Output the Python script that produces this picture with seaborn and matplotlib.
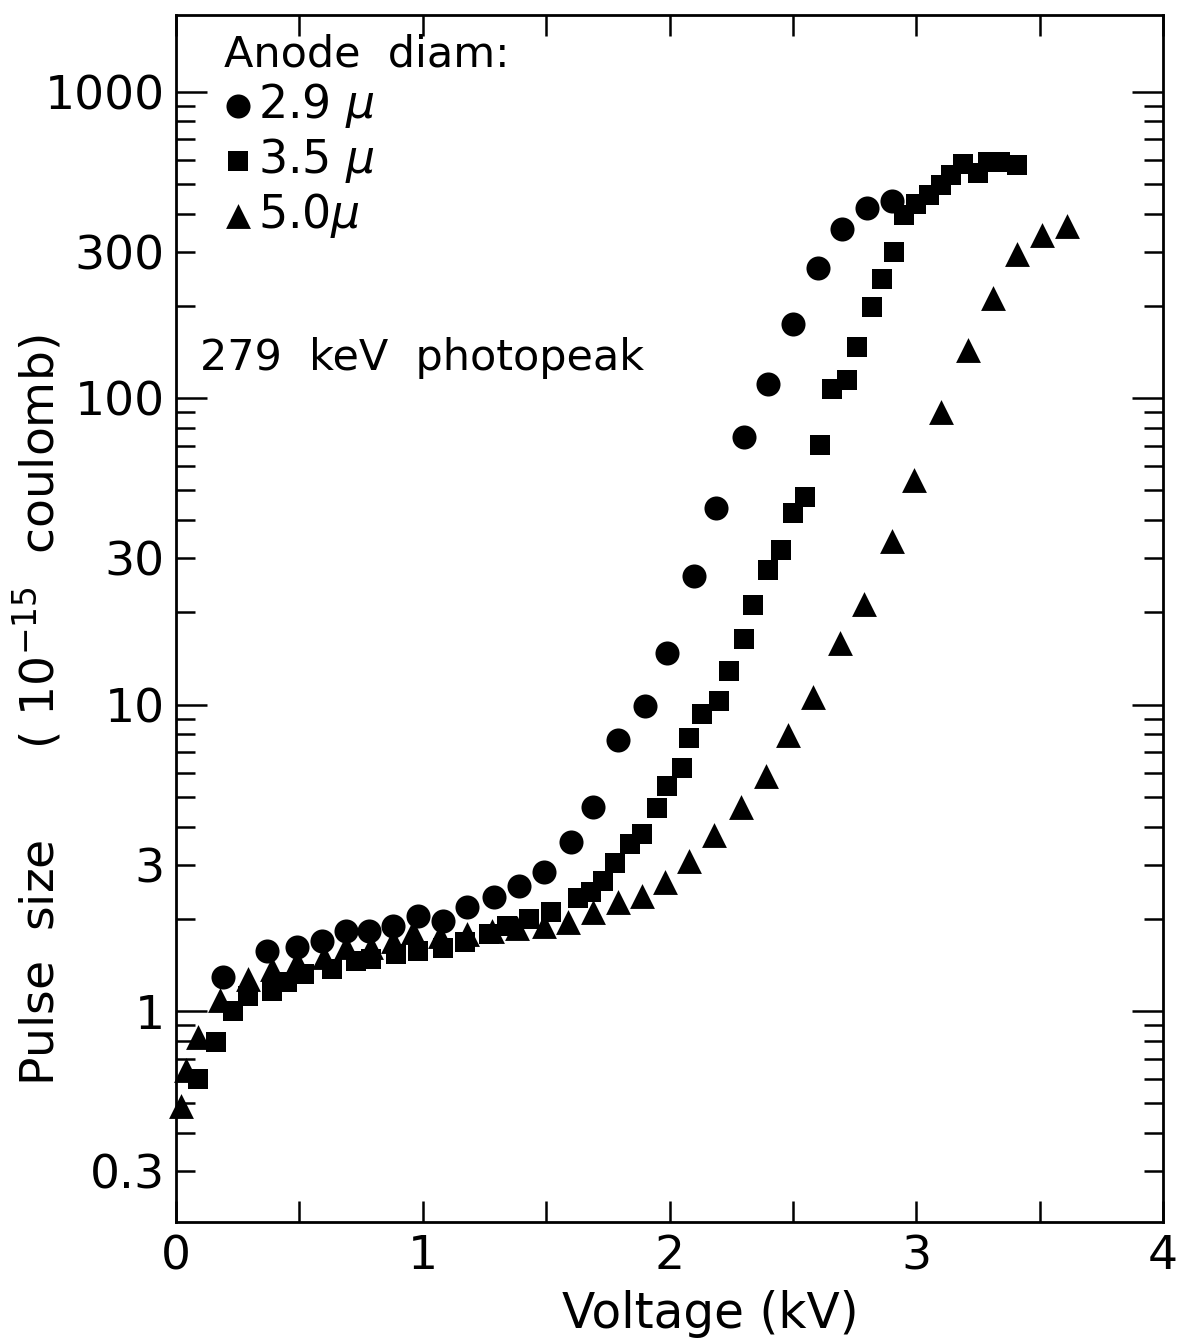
import matplotlib
matplotlib.use('Agg')
import matplotlib.pyplot as plt
from matplotlib.ticker import FixedLocator, FuncFormatter
import pandas as pd
import seaborn as sns

# anode diameter 2.9 micron (circles)
volt_29 = [0.19, 0.37, 0.49, 0.59, 0.69, 0.78, 0.88, 0.98, 1.08, 1.18, 1.29, 1.39, 1.49, 1.60,
           1.69, 1.79, 1.90, 1.99, 2.10, 2.19, 2.30, 2.40, 2.50, 2.60, 2.70, 2.80, 2.90]
pulse_29 = [1.29, 1.57, 1.62, 1.69, 1.83, 1.83, 1.90, 2.05, 1.97, 2.19, 2.36, 2.56, 2.85, 3.57,
            4.65, 7.64, 9.87, 14.7, 26.2, 43.8, 74.8, 111, 175, 266, 356, 418, 440]

# anode diameter 3.5 micron (squares)
volt_35 = [0.09, 0.16, 0.23, 0.29, 0.39, 0.45, 0.52, 0.63, 0.73, 0.79,
           0.89, 0.98, 1.08, 1.17, 1.27, 1.34, 1.43, 1.52, 1.63, 1.68,
           1.73, 1.78, 1.84, 1.89, 1.95, 1.99, 2.05, 2.08, 2.13, 2.20,
           2.24, 2.30, 2.34, 2.40, 2.45, 2.50, 2.55, 2.61, 2.66, 2.72,
           2.76, 2.82, 2.86, 2.91, 2.95, 3.00, 3.05, 3.10, 3.14, 3.19,
           3.25, 3.29, 3.34, 3.41]
pulse_35 = [0.60, 0.79, 1.00, 1.12, 1.16, 1.24, 1.32, 1.37, 1.46, 1.48,
            1.54, 1.57, 1.60, 1.68, 1.79, 1.90, 2.00, 2.11, 2.34, 2.45,
            2.66, 3.05, 3.52, 3.79, 4.60, 5.41, 6.19, 7.8, 9.3, 10.3,
            12.9, 16.4, 21.1, 27.5, 32.0, 42.3, 47.7, 70.5, 107, 115,
            147, 199, 244, 299, 396, 430, 460, 496, 535, 581,
            543, 590, 590, 577]

# anode diameter 5.0 micron (triangles)
volt_50 = [0.02, 0.04, 0.09, 0.18, 0.29, 0.39, 0.49, 0.60, 0.69, 0.79,
           0.88, 0.96, 1.07, 1.18, 1.28, 1.38, 1.49, 1.59, 1.69, 1.79,
           1.89, 1.98, 2.08, 2.18, 2.29, 2.39, 2.48, 2.58, 2.69, 2.79,
           2.90, 2.99, 3.10, 3.21, 3.31, 3.41, 3.51, 3.61]
pulse_50 = [0.49, 0.64, 0.82, 1.09, 1.27, 1.37, 1.45, 1.50, 1.62, 1.62,
            1.69, 1.81, 1.76, 1.78, 1.82, 1.86, 1.90, 1.95, 2.11, 2.27,
            2.38, 2.64, 3.09, 3.74, 4.65, 5.87, 7.94, 10.6, 15.9, 21.3,
            34.2, 54.2, 89.8, 144, 212, 295, 340, 364]

x_ticks = [0, 1, 2, 3, 4]
y_labeled = [0.3, 1, 3, 10, 30, 100, 300, 1000]

sns.set_theme(style='ticks')
plt.rcParams['font.family'] = ['DejaVu Sans']
plt.rcParams['mathtext.fontset'] = 'dejavusans'
plt.rcParams['text.color'] = 'black'
plt.rcParams['axes.labelcolor'] = 'black'

fig = plt.figure(figsize=(11.92, 13.40), dpi=100)
ax = fig.add_axes([0.1477, 0.0881, 0.828, 0.9007])

df_50 = pd.DataFrame({'voltage': volt_50, 'pulse': pulse_50})
df_35 = pd.DataFrame({'voltage': volt_35, 'pulse': pulse_35})
df_29 = pd.DataFrame({'voltage': volt_29, 'pulse': pulse_29})

common = dict(ax=ax, color='black', edgecolor='black', linewidth=0, clip_on=False, zorder=3)
sns.scatterplot(data=df_50, x='voltage', y='pulse', marker='^', s=320, label=r'5.0$\mu$', **common)
sns.scatterplot(data=df_35, x='voltage', y='pulse', marker='s', s=225, label=r'3.5 $\mu$', **common)
sns.scatterplot(data=df_29, x='voltage', y='pulse', marker='o', s=300, label=r'2.9 $\mu$', **common)

ax.set_yscale('log')
ax.set_xlim(0, 4)
ax.set_ylim(0.205, 1780)

ax.xaxis.set_major_locator(FixedLocator(x_ticks))
ax.xaxis.set_minor_locator(FixedLocator([0.5, 1.5, 2.5, 3.5]))
ax.set_xticklabels([str(t) for t in x_ticks])

ax.yaxis.set_major_locator(FixedLocator([1, 10, 100, 1000]))
minors = [k * 10.0 ** e for e in range(-1, 4) for k in range(2, 10)]
ax.yaxis.set_minor_locator(FixedLocator(minors))
ax.yaxis.set_major_formatter(FuncFormatter(lambda v, p: f'{v:g}'))
ax.yaxis.set_minor_formatter(FuncFormatter(
    lambda v, p: f'{v:g}' if any(abs(v - t) < 1e-6 * t for t in y_labeled) else ''))

ax.tick_params(axis='both', which='both', direction='in', width=1.8, colors='black',
               labelsize=34, top=True, right=True)
ax.tick_params(axis='x', which='both', length=15, pad=9)
ax.tick_params(axis='y', which='major', length=22, pad=8)
ax.tick_params(axis='y', which='minor', length=14, pad=8)

for sp in ax.spines.values():
    sp.set_linewidth(2)
    sp.set_color('black')

ax.set_xlabel('Voltage (kV)', fontsize=35)
ax.xaxis.set_label_coords(0.541, -0.056)
ax.set_ylabel(r'Pulse  size      ( 10$^{-15}$  coulomb)', fontsize=34)
ax.yaxis.set_label_coords(-0.113, 0.424)

ax.text(0.024, 0.716, '279  keV  photopeak', transform=ax.transAxes,
        fontsize=31, ha='left', va='center')

handles, labels = ax.get_legend_handles_labels()
order = [2, 1, 0]
leg = ax.legend([handles[i] for i in order], [labels[i] for i in order],
                title='Anode  diam:', loc='upper left', bbox_to_anchor=(0.03, 1.0),
                frameon=False, fontsize=33, title_fontsize=31, alignment='left',
                handlelength=0.6, handletextpad=0.15, labelspacing=0.13,
                borderaxespad=0.2, borderpad=0.2)
leg.get_title().set_color('black')

fig.savefig('out.png', dpi=100, facecolor='white')
